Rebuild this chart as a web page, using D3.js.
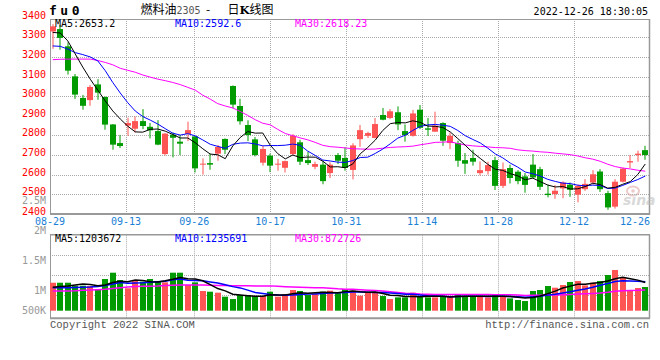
<!DOCTYPE html>
<html><head><meta charset="utf-8">
<script src="https://cdn.jsdelivr.net/npm/d3@7"></script>
<style>body{margin:0;background:#fff} svg{display:block}</style>
</head><body><svg id="c" width="660" height="360"></svg>
<script>
const dates = ["08-29","08-30","08-31","09-01","09-02","09-05","09-06","09-07","09-08","09-09","09-13","09-14","09-15","09-16","09-19","09-20","09-21","09-22","09-23","09-26","09-27","09-28","09-29","09-30","10-10","10-11","10-12","10-13","10-14","10-17","10-18","10-19","10-20","10-21","10-24","10-25","10-26","10-27","10-28","10-31","11-01","11-02","11-03","11-04","11-07","11-08","11-09","11-10","11-11","11-14","11-15","11-16","11-17","11-18","11-21","11-22","11-23","11-24","11-25","11-28","11-29","11-30","12-01","12-02","12-05","12-06","12-07","12-08","12-09","12-12","12-13","12-14","12-15","12-16","12-19","12-20","12-21","12-22","12-23","12-26"];
const opens  = [3330,3342,3254,3101,2991,2980,3060,2996,2856,2761,2850,2834,2873,2844,2822,2705,2804,2768,2807,2795,2651,2659,2707,2782,3052,2950,2853,2780,2661,2697,2651,2635,2705,2765,2674,2640,2651,2608,2700,2685,2624,2781,2798,2787,2904,2889,2918,2822,2798,2931,2836,2819,2863,2761,2761,2674,2685,2608,2618,2674,2543,2634,2615,2591,2651,2628,2503,2501,2530,2549,2498,2526,2560,2616,2506,2437,2564,2662,2700,2725];
const highs  = [3367,3363,3274,3113,3006,3057,3087,2998,2858,2802,2890,2897,2934,2863,2878,2812,2815,2802,2870,2798,2683,2708,2751,2785,3055,2987,2877,2792,2748,2707,2680,2672,2807,2778,2717,2666,2671,2663,2710,2739,2760,2853,2819,2889,2940,2935,2948,2856,2930,2955,2889,2921,2867,2815,2773,2710,2727,2668,2666,2691,2662,2651,2623,2608,2705,2640,2549,2547,2566,2560,2550,2577,2623,2628,2518,2577,2636,2700,2722,2747];
const lows   = [3241,3237,3110,2986,2931,2951,2982,2829,2727,2736,2798,2815,2832,2785,2750,2698,2688,2700,2771,2611,2600,2625,2671,2705,2938,2855,2771,2693,2646,2613,2620,2611,2700,2649,2649,2628,2551,2583,2654,2620,2576,2742,2787,2785,2877,2883,2827,2768,2794,2832,2798,2819,2747,2730,2640,2604,2646,2597,2600,2522,2532,2555,2551,2508,2580,2522,2484,2477,2480,2487,2459,2518,2549,2512,2421,2427,2560,2634,2666,2676];
const closes = [3356,3297,3130,3008,2951,3047,3018,2855,2753,2746,2863,2873,2848,2826,2753,2809,2788,2758,2827,2632,2656,2651,2741,2727,2957,2872,2802,2700,2731,2646,2656,2669,2798,2666,2659,2654,2567,2651,2671,2634,2749,2827,2812,2858,2880,2923,2856,2802,2912,2839,2829,2850,2773,2798,2671,2656,2666,2623,2649,2543,2628,2583,2567,2548,2586,2538,2496,2518,2560,2523,2543,2553,2602,2526,2433,2564,2631,2669,2707,2700];
const volumes = [1196000,1196000,1196000,1069000,1069000,1054000,927000,1355000,1624000,1312000,957000,1312000,1240000,1355000,1268000,1212000,1624000,1624000,1098000,1212000,842000,812000,770000,599000,498000,670000,670000,627000,627000,812000,599000,713000,885000,842000,670000,713000,812000,855000,770000,927000,855000,641000,770000,786000,627000,498000,570000,570000,770000,599000,570000,570000,599000,599000,713000,599000,599000,599000,570000,713000,599000,527000,456000,413000,842000,885000,1054000,983000,1098000,1227000,1268000,1081000,1196000,1268000,1526000,1740000,1411000,885000,970000,1012000];
// moving-average values before a full window exists
const ma5Lead  = [3325,3322,3282,3215];
const ma10Lead = [3256,3254,3240,3222,3212,3200,3180,3130,3070];
const ma30Lead = [3186,3188,3189,3189,3189,3189,3182,3172,3160,3142,3132,3122,3108,3097,3087,3079,3070,3059,3045,3031,3005,2985,2962,2950,2940,2922,2902,2880,2862];
const volMa5Lead  = [1000000,1030000,1060000,1100000];
const volMa10Lead = [983000,983000,983000,990000,1000000,1010000,1030000,1080000,1140000];
const volMa30Lead = [840000,840000,840000,850000,870000,880000,900000,920000,950000,980000,1010000,1030000,1040000,1050000,1060000,1080000,1090000,1100000,1100000,1100000,1100000,1090000,1080000,1080000,1070000,1070000,1070000,1060000,1060000];
const priceTicks = [3400,3300,3200,3100,3000,2900,2800,2700,2600,2500,2400];
const volTickValues = [2500000,2000000,1500000,1000000,500000];
const volTickLabels = ["2.5M","2M","1.5M","1M","500K"];
const dateTicks = ["08-29","09-13","09-26","10-17","10-31","11-14","11-28","12-12","12-26"];
const maPriceLabels = ["MA5:2653.2","MA10:2592.6","MA30:2618.23"];
const maVolLabels = ["MA5:1203672","MA10:1235691","MA30:872726"];
const maColors = ["#000000","#0000ff","#ff00ff"];

const UP = "#ff5454", DOWN = "#009b00";
const MONO = "'DejaVu Sans Mono', monospace";
const svg = d3.select("#c");

const L = 50, R = 650, pTop = 19, pBot = 213.9, vTop = 234.7, vBot = 318.3, vBase = 310.7;
const xBand = d3.scaleBand().domain(dates).range([49, 649]);
const xPt = d3.scalePoint().domain(dates).range([L, R]);
const yP = d3.scaleLinear().domain([2400, 3400]).range([pBot, 17.7]);
const yV = d3.scaleLinear().domain([0, 3248000]).range([vBase, vTop]);
const volLabelY = d3.scaleLinear().domain([1000000, 2500000]).range([290.7, 200]);
const cx = d => xBand(d) + xBand.bandwidth() / 2;

function movAvg(arr, n, lead) {
  return arr.map((v, i) => i < n - 1 ? lead[i] : d3.mean(arr.slice(i - n + 1, i + 1)));
}

// grids
const grid = svg.append("g").attr("stroke", "#aaa").attr("stroke-dasharray", "1,1").attr("stroke-width", 1);
priceTicks.filter(t => t > 2400 && t < 3400).forEach(t => {
  grid.append("line").attr("x1", L).attr("x2", R).attr("y1", Math.round(yP(t)) + 0.5).attr("y2", Math.round(yP(t)) + 0.5);
});
dateTicks.slice(1, -1).forEach(d => {
  const x = Math.round(xPt(d)) + 0.5;
  grid.append("line").attr("x1", x).attr("x2", x).attr("y1", pTop).attr("y2", pBot);
  grid.append("line").attr("x1", x).attr("x2", x).attr("y1", vTop).attr("y2", vBot);
});
[255, 275, 295].forEach(y => grid.append("line").attr("x1", L).attr("x2", R).attr("y1", y + 0.5).attr("y2", y + 0.5));

// borders
const bd = svg.append("g").attr("stroke", "#999").attr("fill", "none");
bd.append("line").attr("x1", L).attr("x2", R).attr("y1", pTop + 0.5).attr("y2", pTop + 0.5);
bd.append("line").attr("x1", L + 0.5).attr("x2", L + 0.5).attr("y1", pTop).attr("y2", pBot + 1);
bd.append("line").attr("x1", R - 0.5).attr("x2", R - 0.5).attr("y1", pTop).attr("y2", pBot + 1).attr("stroke-width", 1.5);
bd.append("line").attr("x1", L).attr("x2", R).attr("y1", pBot).attr("y2", pBot).attr("stroke-width", 2);
bd.append("line").attr("x1", L).attr("x2", R).attr("y1", vTop).attr("y2", vTop).attr("stroke-width", 1.5);
bd.append("line").attr("x1", L + 0.5).attr("x2", L + 0.5).attr("y1", vTop).attr("y2", vBot);
bd.append("line").attr("x1", R - 0.5).attr("x2", R - 0.5).attr("y1", vTop).attr("y2", vBot).attr("stroke-width", 1.5);
bd.append("line").attr("x1", L).attr("x2", R).attr("y1", vBot).attr("y2", vBot).attr("stroke-width", 2);

// watermark
const wm = svg.append("g").attr("opacity", 0.55);
wm.append("ellipse").attr("cx", 633).attr("cy", 191).attr("rx", 6).attr("ry", 4.5).attr("fill", "none").attr("stroke", "#e0a0a0").attr("stroke-width", 2);
wm.append("circle").attr("cx", 633).attr("cy", 191).attr("r", 1.8).attr("fill", "#e0a0a0");
wm.append("text").attr("x", 623).attr("y", 205).attr("font-family", "'DejaVu Sans', sans-serif").attr("font-style", "italic").attr("font-weight", "bold").attr("font-size", 14).attr("fill", "#bbb").text("sina");

// candles
const rows = dates.map((d, i) => ({d, o: opens[i], h: highs[i], l: lows[i], c: closes[i], v: volumes[i]}));
const cg = svg.append("g");
rows.forEach(r => {
  const col = r.c >= r.o ? UP : DOWN;
  const x0 = Math.round(xBand(r.d) + 0.75);
  cg.append("rect").attr("x", x0 + 2.5).attr("width", 1).attr("y", yP(r.h)).attr("height", yP(r.l) - yP(r.h)).attr("fill", col);
  const top = yP(Math.max(r.o, r.c)), bot = yP(Math.min(r.o, r.c));
  cg.append("rect").attr("x", x0).attr("width", 6).attr("y", top).attr("height", Math.max(1, bot - top)).attr("fill", col);
  cg.append("rect").attr("x", x0).attr("width", 6).attr("y", yV(r.v)).attr("height", yV(0) - yV(r.v)).attr("fill", col);
});

// MA lines
const pMA = [movAvg(closes, 5, ma5Lead), movAvg(closes, 10, ma10Lead), movAvg(closes, 30, ma30Lead)];
const vMA = [movAvg(volumes, 5, volMa5Lead), movAvg(volumes, 10, volMa10Lead), movAvg(volumes, 30, volMa30Lead)];
const lineP = d3.line().x((v, i) => cx(dates[i])).y(v => yP(v));
const lineV = d3.line().x((v, i) => cx(dates[i])).y(v => yV(v));
[2, 1, 0].forEach(k => {
  svg.append("path").attr("d", lineP(pMA[k])).attr("fill", "none").attr("stroke", maColors[k]).attr("stroke-width", 1);
  svg.append("path").attr("d", lineV(vMA[k])).attr("fill", "none").attr("stroke", maColors[k]).attr("stroke-width", 1.5);
});

// price labels
const tg = svg.append("g").attr("font-family", MONO).attr("font-size", 10);
priceTicks.forEach(t => {
  tg.append("text").attr("x", 46).attr("y", yP(t) + 1).attr("text-anchor", "end").attr("fill", "#f00").text(String(t));
});
volTickValues.forEach((v, i) => {
  const y = Math.min(volLabelY(v), vBase);
  tg.append("text").attr("x", 46).attr("y", y + 3.6).attr("text-anchor", "end").attr("fill", "#999").text(volTickLabels[i]);
});
dateTicks.forEach(d => {
  const x = xPt(d);
  const w = 30;
  const xc = Math.min(x, R - w / 2);
  tg.append("text").attr("x", xc).attr("y", 225.3).attr("text-anchor", "middle").attr("fill", "#1a7fd6").text(d);
});
maPriceLabels.forEach((s, k) => {
  tg.append("text").attr("x", 55 + 120 * k).attr("y", 27).attr("fill", maColors[k]).text(s);
});
maVolLabels.forEach((s, k) => {
  tg.append("text").attr("x", 55 + 120 * k).attr("y", 242).attr("fill", maColors[k]).text(s);
});
tg.append("text").attr("x", 648).attr("y", 15).attr("text-anchor", "end").attr("fill", "#000").text("2022-12-26 18:30:05");
tg.append("text").attr("x", 50).attr("y", 327.5).attr("fill", "#555").attr("font-family", "'Liberation Mono', monospace").attr("font-size", 10.5).text("Copyright 2022 SINA.COM");
tg.append("text").attr("x", 649).attr("y", 327.5).attr("text-anchor", "end").attr("fill", "#555").attr("font-family", "'Liberation Mono', monospace").attr("font-size", 10.5).text("http://finance.sina.com.cn");

// titles
svg.append("text").attr("x", 49).attr("y", 15).attr("font-family", "'DejaVu Sans Mono', monospace").attr("font-weight", "bold").attr("font-size", 13).attr("letter-spacing", 3.5).attr("fill", "#000").text("fu0");
const tt = svg.append("text").attr("y", 14).attr("font-family", "'Noto Sans CJK SC', sans-serif").attr("font-size", 12).attr("fill", "#000");
tt.append("tspan").attr("x", 140.5).text("燃料油");
tt.append("tspan").attr("fill", "#555").attr("font-family", MONO).attr("font-size", 10).text("2305");
tt.append("tspan").attr("x", 206).text("-");
tt.append("tspan").attr("x", 227.5).text("日");
tt.append("tspan").attr("font-weight", "bold").attr("font-family", "'DejaVu Serif', serif").attr("font-size", 11.5).text("K");
tt.append("tspan").text("线图");
</script></body></html>
